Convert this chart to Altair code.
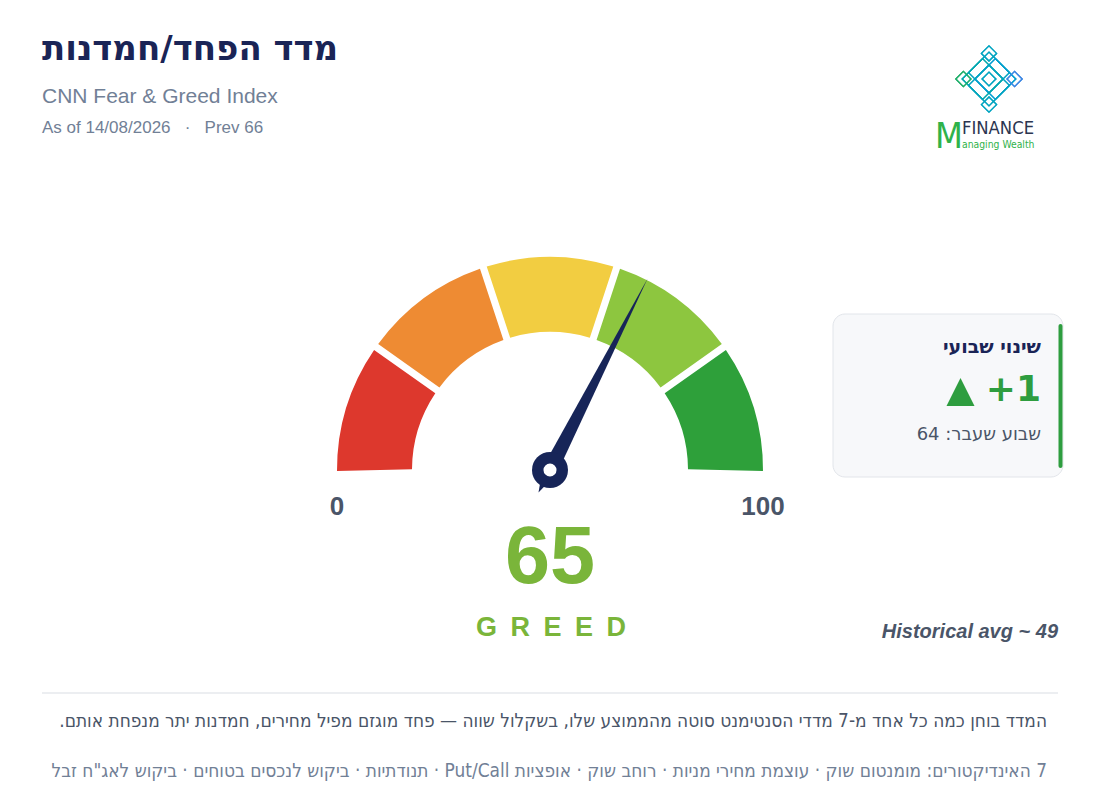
import altair as alt
import pandas as pd

# ---------------- data ----------------
zones = ["Extreme Fear", "Fear", "Neutral", "Greed", "Extreme Greed"]
zone_start = [0, 20, 40, 60, 80]
zone_end = [20, 40, 60, 80, 100]
zone_colors = ["#dd382d", "#ee8b33", "#f2cd41", "#8dc63f", "#2ea03a"]

index_value = [65]
index_label = ["G\u2002R\u2002E\u2002E\u2002D"]
prev_value = 66
week_ago = 64
weekly_change = ["+1"]
hist_avg = 49

title_text = ["\u202Bמדד הפחד/חמדנות\u202C"]
subtitle_text = ["CNN Fear & Greed Index"]
asof_text = ["As of 14/08/2026\u00a0\u00a0\u00a0·\u00a0\u00a0\u00a0Prev 66"]
card_title = ["\u202Bשינוי שבועי\u202C"]
card_prev = ["\u202Bשבוע שעבר: 64\u202C"]
hist_text = ["Historical avg ~ 49"]
note_line1 = ["\u202Bהמדד בוחן כמה כל אחד מ-7 מדדי הסנטימנט סוטה מהממוצע שלו, בשקלול שווה — פחד מוגזם מפיל מחירים, חמדנות יתר מנפחת אותם.\u202C"]
note_line2 = ["\u202B7 האינדיקטורים: מומנטום שוק · עוצמת מחירי מניות · רוחב שוק · אופציות Put/Call · תנודתיות · ביקוש לנכסים בטוחים · ביקוש לאג\"ח זבל\u202C"]
axis_min_label = ["0"]
axis_max_label = ["100"]

# logo knot: overlapping rotated squares (screen offsets in knot units)
knot_dx = [0, 1, -1, 0, 0, 0, 0, -4, 4]
knot_dy = [-1, 0, 0, 1, 0, -4, 4, 0, 0]
knot_span = [6, 6, 6, 6, 2, 2.2, 2.2, 2.2, 2.2]

W, H = 1084, 796
M = 8  # page margin offset

NAVY = "#1a2456"
GRAY = "#718096"
SLATE = "#4a5568"
LIME = "#7ab53a"
GREEN = "#2e9d3f"

FONT_LAT = "Liberation Sans"
FONT_HE = "DejaVu Sans"
FONT_NOTE = "DejaVu Sans Condensed, DejaVu Sans"
FONT_LOGO = "DejaVu Sans Condensed, Roboto"


def txt(values, x, y, **kw):
    df = pd.DataFrame({"t": values})
    return alt.Chart(df).mark_text(**kw).encode(
        x=alt.value(x - M), y=alt.value(y - M), text="t:N"
    )


CX, CY = 550, 470

# ---------------- gauge ----------------
gauge_df = pd.DataFrame({"zone": zones, "start": zone_start, "end": zone_end})
theta_scale = alt.Scale(domain=[0.66, 99.34], range=[4.71238898, 7.85398163])
arcs = alt.Chart(gauge_df).mark_arc(radius=213, radius2=138, padAngle=0.028).encode(
    x=alt.value(CX - M),
    y=alt.value(CY - M),
    theta=alt.Theta("start:Q", scale=theta_scale, stack=False),
    theta2="end:Q",
    fill=alt.Fill("zone:N", scale=alt.Scale(domain=zones, range=zone_colors), legend=None),
)

needle_df = pd.DataFrame({"value": index_value})
needle = alt.Chart(needle_df).mark_point(
    shape="M 0 -1 L 0.036 0 L 0 0.118 L -0.036 0 Z",
    filled=True, opacity=1, color="#172558", size=184900, strokeWidth=0,
).encode(
    x=alt.value(CX - M), y=alt.value(CY - M),
    angle=alt.Angle("value:Q", scale=alt.Scale(domain=[0, 100], range=[270, 450])),
)
pivot = alt.Chart(needle_df).mark_point(
    shape="circle", filled=True, opacity=1, color="#172558", size=1296, strokeWidth=0
).encode(x=alt.value(CX - M), y=alt.value(CY - M))
pivot_hole = alt.Chart(needle_df).mark_point(
    shape="circle", filled=True, opacity=1, color="white", size=170, strokeWidth=0
).encode(x=alt.value(CX - M), y=alt.value(CY - M))

label0 = txt(axis_min_label, 337, 507, font=FONT_LAT, fontSize=26, fontWeight="bold",
             color=SLATE, align="center", baseline="middle")
label100 = txt(axis_max_label, 763, 507, font=FONT_LAT, fontSize=26, fontWeight="bold",
               color=SLATE, align="center", baseline="middle")

value_text = alt.Chart(needle_df).mark_text(
    font=FONT_LAT, fontSize=81, fontWeight="bold", color=LIME,
    align="center", baseline="middle"
).encode(x=alt.value(CX - M), y=alt.value(559 - M), text="value:N")

greed_text = txt(index_label, 551, 628, font=FONT_LAT, fontSize=27, fontWeight="bold",
                 color=LIME, align="center", baseline="middle")

hist = txt(hist_text, 1058, 632, font=FONT_LAT, fontSize=20, fontWeight="bold",
           fontStyle="italic", color=SLATE, align="right", baseline="middle")

# ---------------- header ----------------
title = txt(title_text, 42, 50, font=FONT_HE, fontSize=34, fontWeight="bold",
            color=NAVY, align="left", baseline="middle")
subtitle = txt(subtitle_text, 42, 97, font=FONT_LAT, fontSize=21, color=GRAY,
               align="left", baseline="middle")
asof = txt(asof_text, 42, 128, font=FONT_LAT, fontSize=17, color=GRAY,
           align="left", baseline="middle")

# ---------------- logo ----------------
K = 6.4
LX, LY = 989 - M, 79 - M
knot_df = pd.DataFrame({"dx": knot_dx, "dy": knot_dy, "span": knot_span})
xs = alt.Scale(domain=[-10, 10], range=[LX - 10 * K, LX + 10 * K])
ys = alt.Scale(domain=[-10, 10], range=[LY - 10 * K, LY + 10 * K])
knot_color = alt.Stroke("dx:Q", scale=alt.Scale(domain=[-4, 4], range=["#1fae6a", "#3b86e3"]),
                        legend=None)


def knot_layer(extra):
    return alt.Chart(knot_df).mark_point(
        shape="diamond", filled=False, strokeWidth=1.3, opacity=1
    ).encode(
        x=alt.X("dx:Q", scale=xs, axis=None),
        y=alt.Y("dy:Q", scale=ys, axis=None),
        stroke=knot_color,
        size=alt.Size("span:Q", scale=alt.Scale(type="pow", exponent=2,
                                                 domain=[0, 6], range=[extra ** 2, (6 * K + extra) ** 2]),
                      legend=None),
    )


knot_outer = knot_layer(2.5)
knot_inner = knot_layer(-2.5)

logo_m = txt(["M"], 949, 137, font=FONT_LOGO, fontSize=36,
             color="#2fb24a", align="center", baseline="middle")
logo_fin = txt(["FINANCE"], 962, 129, font=FONT_LOGO, fontSize=18.3,
               color="#2b3550", align="left", baseline="middle")
logo_mw = txt(["anaging Wealth"], 962, 145, font=FONT_LOGO, fontSize=10.3,
              color="#2fb24a", align="left", baseline="middle")

# ---------------- card ----------------
card_df = pd.DataFrame({"t": ["card"]})
card = alt.Chart(card_df).mark_rect(
    cornerRadius=12, fill="#f7f8fa", stroke="#e2e5ea", strokeWidth=1
).encode(
    x=alt.value(833 - M), x2=alt.value(1063 - M),
    y=alt.value(314 - M), y2=alt.value(477 - M),
)
card_bar = alt.Chart(card_df).mark_rule(
    color=GREEN, strokeWidth=4, strokeCap="round"
).encode(
    x=alt.value(1060.5 - M), y=alt.value(326 - M), y2=alt.value(466 - M)
)
card_t = txt(card_title, 1041, 347, font=FONT_HE, fontSize=19, fontWeight="bold",
             color=NAVY, align="right", baseline="middle")
card_change = txt(weekly_change, 1041, 390, font=FONT_HE, fontSize=36, fontWeight="bold",
                  color=GREEN, align="right", baseline="middle")
card_tri = alt.Chart(card_df).mark_point(
    shape="M 0 -1 L 1 1 L -1 1 Z", filled=True, opacity=1, color=GREEN,
    size=784, strokeWidth=0
).encode(x=alt.value(960.5 - M), y=alt.value(392 - M))
card_p = txt(card_prev, 1041, 435, font=FONT_HE, fontSize=18, color=SLATE,
             align="right", baseline="middle")

# ---------------- footer ----------------
sep = alt.Chart(card_df).mark_rule(color="#e6e8ec", strokeWidth=1.5).encode(
    x=alt.value(42 - M), x2=alt.value(1058 - M), y=alt.value(693 - M)
)
note1 = txt(note_line1, 1047, 721, font=FONT_NOTE, fontSize=18.9, color=SLATE,
            align="right", baseline="middle")
note2 = txt(note_line2, 1047, 771, font=FONT_NOTE, fontSize=18.9, color=GRAY,
            align="right", baseline="middle")

chart = alt.layer(
    arcs, needle, pivot, pivot_hole, label0, label100, value_text, greed_text, hist,
    title, subtitle, asof, knot_outer, knot_inner, logo_m, logo_fin, logo_mw,
    card, card_bar, card_t, card_change, card_tri, card_p, sep, note1, note2,
).properties(
    width=W, height=H, padding=0, background="white",
    autosize=alt.AutoSizeParams(type="fit", contains="padding"),
).configure_view(strokeWidth=0)

chart.save("out.html", embed_options={"renderer": "svg", "actions": False})
